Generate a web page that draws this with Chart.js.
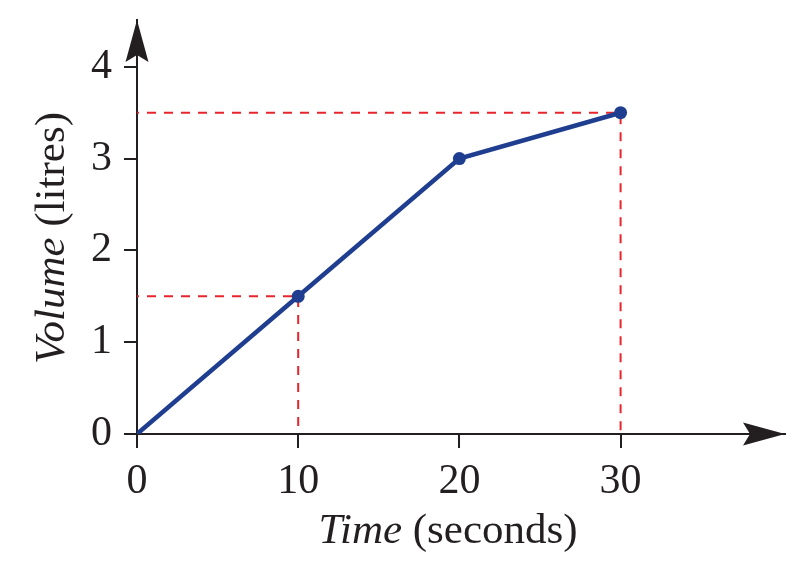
<!DOCTYPE html>
<html>
<head>
<meta charset="utf-8">
<script src="https://cdn.jsdelivr.net/npm/chart.js@4"></script>
<style>
  html, body { margin: 0; padding: 0; background: #fff; }
  #wrap { width: 807px; height: 580px; }
</style>
</head>
<body>
<div id="wrap"><canvas id="chart"></canvas></div>
<script>
// data
const times = [0, 10, 20, 30];
const volumes = [0, 1.5, 3, 3.5];
const guideA = [[0, 1.5], [10, 1.5], [10, 0]];
const guideB = [[0, 3.5], [30, 3.5], [30, 0]];
const xTicks = [0, 10, 20, 30];
const yTicks = [0, 0.5, 1, 1.5, 2, 2.5, 3, 3.5, 4];
const yLabels = [0, 1, 2, 3, 4];

const FONT = "'Liberation Serif', 'Times New Roman', serif";
const INK = '#231f20';
const BLUE = '#1f3e8f';
const RED = '#e8242c';

const toPts = arr => arr.map(p => ({ x: p[0], y: p[1] }));

// arrows at end of each axis + axis titles (mixed italic)
const axesExtras = {
    id: 'axesExtras',
    afterDraw(chart) {
        const ctx = chart.ctx;
        const a = chart.chartArea;
        const x0 = chart.scales.x.getPixelForValue(0);
        const y0 = chart.scales.y.getPixelForValue(0);
        ctx.save();
        ctx.fillStyle = INK;
        // y arrow
        ctx.beginPath();
        ctx.moveTo(x0, a.top);
        ctx.lineTo(x0 + 11.5, a.top + 42);
        ctx.lineTo(x0, a.top + 35);
        ctx.lineTo(x0 - 11.5, a.top + 42);
        ctx.closePath();
        ctx.fill();
        // x arrow
        ctx.beginPath();
        ctx.moveTo(a.right, y0);
        ctx.lineTo(a.right - 42, y0 - 11.5);
        ctx.lineTo(a.right - 35, y0);
        ctx.lineTo(a.right - 42, y0 + 11.5);
        ctx.closePath();
        ctx.fill();

        // titles
        ctx.textBaseline = 'alphabetic';
        const it = 'italic 43px ' + FONT;
        const rg = '43px ' + FONT;
        // x title
        ctx.font = it;
        const w1 = ctx.measureText('Time').width;
        ctx.font = rg;
        const w2 = ctx.measureText(' (seconds)').width;
        let sx = 448 - (w1 + w2) / 2;
        ctx.font = it;
        ctx.fillText('Time', sx, 543);
        ctx.font = rg;
        ctx.fillText(' (seconds)', sx + w1, 543);
        // y title
        ctx.translate(64, 238);
        ctx.rotate(-Math.PI / 2);
        ctx.font = it;
        const v1 = ctx.measureText('Volume').width;
        ctx.font = rg;
        const v2 = ctx.measureText(' (litres)').width;
        sx = -(v1 + v2) / 2;
        ctx.font = it;
        ctx.fillText('Volume', sx, 0);
        ctx.font = rg;
        ctx.fillText(' (litres)', sx + v1, 0);
        ctx.restore();
    }
};

new Chart(document.getElementById('chart'), {
    type: 'scatter',
    data: {
        datasets: [
            {
                data: toPts(guideA),
                showLine: true,
                borderColor: RED,
                borderWidth: 2,
                borderDash: [9, 8],
                borderDashOffset: 7,
                pointRadius: 0,
                order: 2
            },
            {
                data: toPts(guideB),
                showLine: true,
                borderColor: RED,
                borderWidth: 2,
                borderDash: [9, 8],
                borderDashOffset: 7,
                pointRadius: 0,
                order: 2
            },
            {
                data: times.map((t, i) => ({ x: t, y: volumes[i] })),
                showLine: true,
                borderColor: BLUE,
                backgroundColor: BLUE,
                borderWidth: 4.5,
                pointRadius: times.map(t => t === 0 ? 0 : 6.5),
                pointBorderWidth: 0,
                order: 1
            }
        ]
    },
    options: {
        responsive: true,
        maintainAspectRatio: false,
        animation: false,
        layout: { padding: { left: 0, top: 20, right: 22, bottom: 0 } },
        plugins: { legend: { display: false }, tooltip: { enabled: false } },
        scales: {
            x: {
                type: 'linear',
                min: 0,
                max: 40.2,
                afterBuildTicks: s => { s.ticks = xTicks.map(v => ({ value: v })); },
                afterFit: s => { s.height = 146; s.paddingLeft = 0; s.paddingRight = 0; },
                grid: { drawOnChartArea: false, drawTicks: true, tickLength: 14, color: INK, lineWidth: 2 },
                border: { display: true, color: INK, width: 2 },
                ticks: { color: INK, font: { family: FONT, size: 42 }, padding: 9, maxRotation: 0 }
            },
            y: {
                type: 'linear',
                min: 0,
                max: 4.51,
                afterBuildTicks: s => { s.ticks = yTicks.map(v => ({ value: v })); },
                afterFit: s => { s.width = 137; s.paddingTop = 0; s.paddingBottom = 0; },
                grid: { drawOnChartArea: false, drawTicks: true, tickLength: 13, color: INK, lineWidth: 2 },
                border: { display: true, color: INK, width: 2 },
                ticks: {
                    color: INK,
                    font: { family: FONT, size: 42 },
                    padding: 12,
                    callback: v => yLabels.includes(v) ? String(v) : ''
                }
            }
        }
    },
    plugins: [axesExtras]
});
</script>
</body>
</html>
